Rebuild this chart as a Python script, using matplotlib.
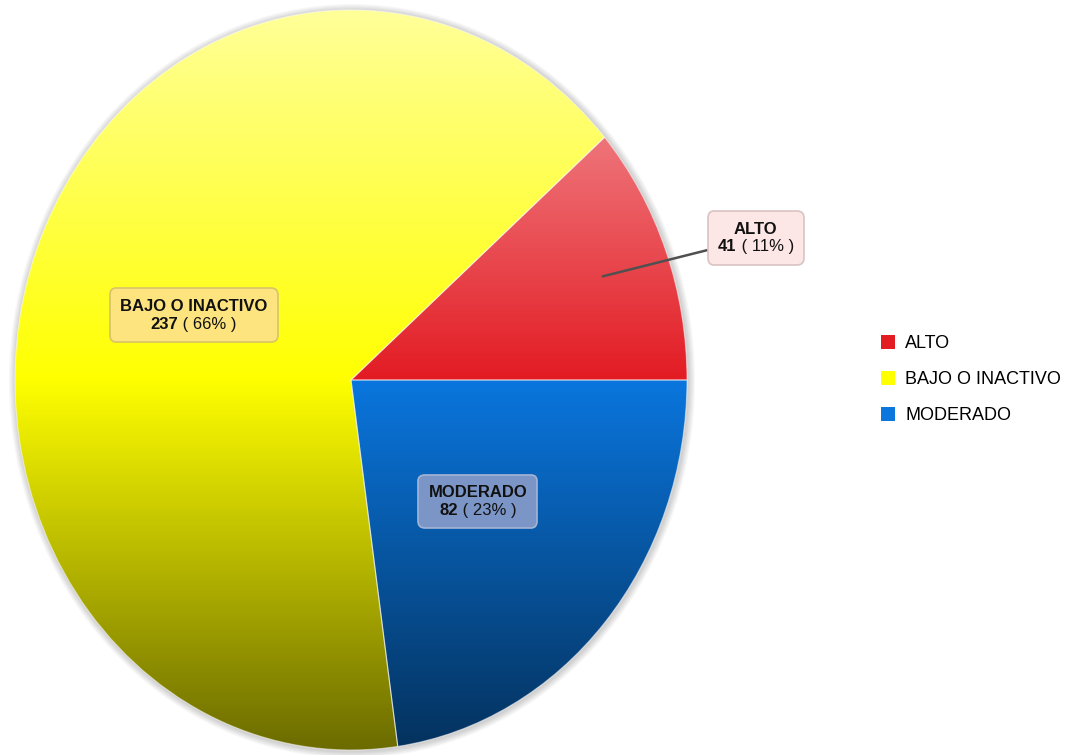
import numpy as np
import matplotlib
matplotlib.use("Agg")
import matplotlib.pyplot as plt
from matplotlib.patches import Ellipse, Patch
from matplotlib.colors import to_rgb
from matplotlib.offsetbox import TextArea, HPacker, VPacker, AnnotationBbox

# niveles de actividad fisica
categorias = ["ALTO", "BAJO O INACTIVO", "MODERADO"]
valores = [41, 237, 82]
porcentajes = ["11%", "66%", "23%"]
colores = ["#e31b23", "#ffff00", "#0a76de"]
fondos_etiqueta = ["#fde6e6", "#fde47f", "#7b95c6"]
bordes_etiqueta = ["#d9c3c3", "#d6c46a", "#a3b5d6"]

FUENTE = "Liberation Sans"


def degradado(color, n=400):
    """Columna de color: aclara hacia arriba y oscurece hacia abajo."""
    base = np.array(to_rgb(color))
    y = np.linspace(1, -1, n)[:, None]
    claro = base + (1 - base) * 0.6 * np.clip(y, 0, 1)
    oscuro = base * (1 + 0.58 * np.clip(y, -1, 0))
    col = np.where(y >= 0, claro, oscuro)
    return col[:, None, :]


fig = plt.figure(figsize=(10.81, 7.55), dpi=100)
ax = fig.add_axes([15 / 1081, 5 / 755, 672 / 1081, 740 / 755])
ax.set_xlim(-1, 1)
ax.set_ylim(-1, 1)
ax.axis("off")

# sombra difusa alrededor del pastel
for i in range(6):
    d = 0.0035 * (i + 1)
    ax.add_patch(Ellipse((0.003, -0.003), 2 + 2 * d, 2 + 2 * d * 336 / 370,
                         fc="#000000", ec="none", alpha=0.03, zorder=0, clip_on=False))

wedges, _ = ax.pie(valores, startangle=0, counterclock=True, radius=1,
                   wedgeprops=dict(linewidth=0.8, edgecolor=(1, 1, 1, 0.5)))
ax.set_aspect("auto")
ax.set_xlim(-1, 1)
ax.set_ylim(-1, 1)

for w, c in zip(wedges, colores):
    w.set_facecolor("none")
    w.set_zorder(3)
    w.set_clip_on(False)
    im = ax.imshow(degradado(c), extent=(-1, 1, -1, 1), aspect="auto",
                   interpolation="bilinear", zorder=2)
    im.set_clip_path(w)

# etiquetas con valor y porcentaje
def caja(i):
    titulo = TextArea(categorias[i], textprops=dict(fontweight="bold", fontsize=12,
                                                    family=FUENTE, color="#111111"))
    num = TextArea(str(valores[i]), textprops=dict(fontweight="bold", fontsize=12,
                                                   family=FUENTE, color="#111111"))
    pct = TextArea(" ( %s )" % porcentajes[i], textprops=dict(fontsize=12, family=FUENTE,
                                                              color="#111111"))
    linea = HPacker(children=[num, pct], sep=0, pad=0, align="baseline")
    return VPacker(children=[titulo, linea], sep=2, pad=0, align="center")


posiciones = [(1.205, 0.384), None, None]
radios = [0.8, 0.5, 0.5]
acum = np.cumsum([0] + valores)
for i in range(len(valores)):
    medio = np.deg2rad((acum[i] + acum[i + 1]) / 2 / sum(valores) * 360)
    r = radios[i]
    punto = (r * np.cos(medio), r * np.sin(medio))
    destino = posiciones[i] if posiciones[i] else punto
    flecha = None
    if posiciones[i]:
        flecha = dict(arrowstyle="-", color="#505050", lw=1.8, shrinkA=0, shrinkB=0)
    ab = AnnotationBbox(caja(i), punto, xybox=destino, xycoords="data",
                        boxcoords="data", fontsize=12, pad=0.62,
                        bboxprops=dict(boxstyle="round,pad=0.62,rounding_size=0.4",
                                       fc=fondos_etiqueta[i], ec=bordes_etiqueta[i],
                                       lw=1.2),
                        arrowprops=flecha, zorder=5)
    ax.add_artist(ab)

handles = [Patch(facecolor=c, edgecolor="none") for c in colores]
fig.legend(handles, categorias, loc="upper left", bbox_to_anchor=(881 / 1081, 1 - 335 / 755),
           frameon=False, prop=dict(family=FUENTE, size=13), handlelength=0.8,
           handleheight=0.8, handletextpad=0.55, labelspacing=1.05, borderpad=0,
           borderaxespad=0)

fig.savefig("out.png", dpi=100)
